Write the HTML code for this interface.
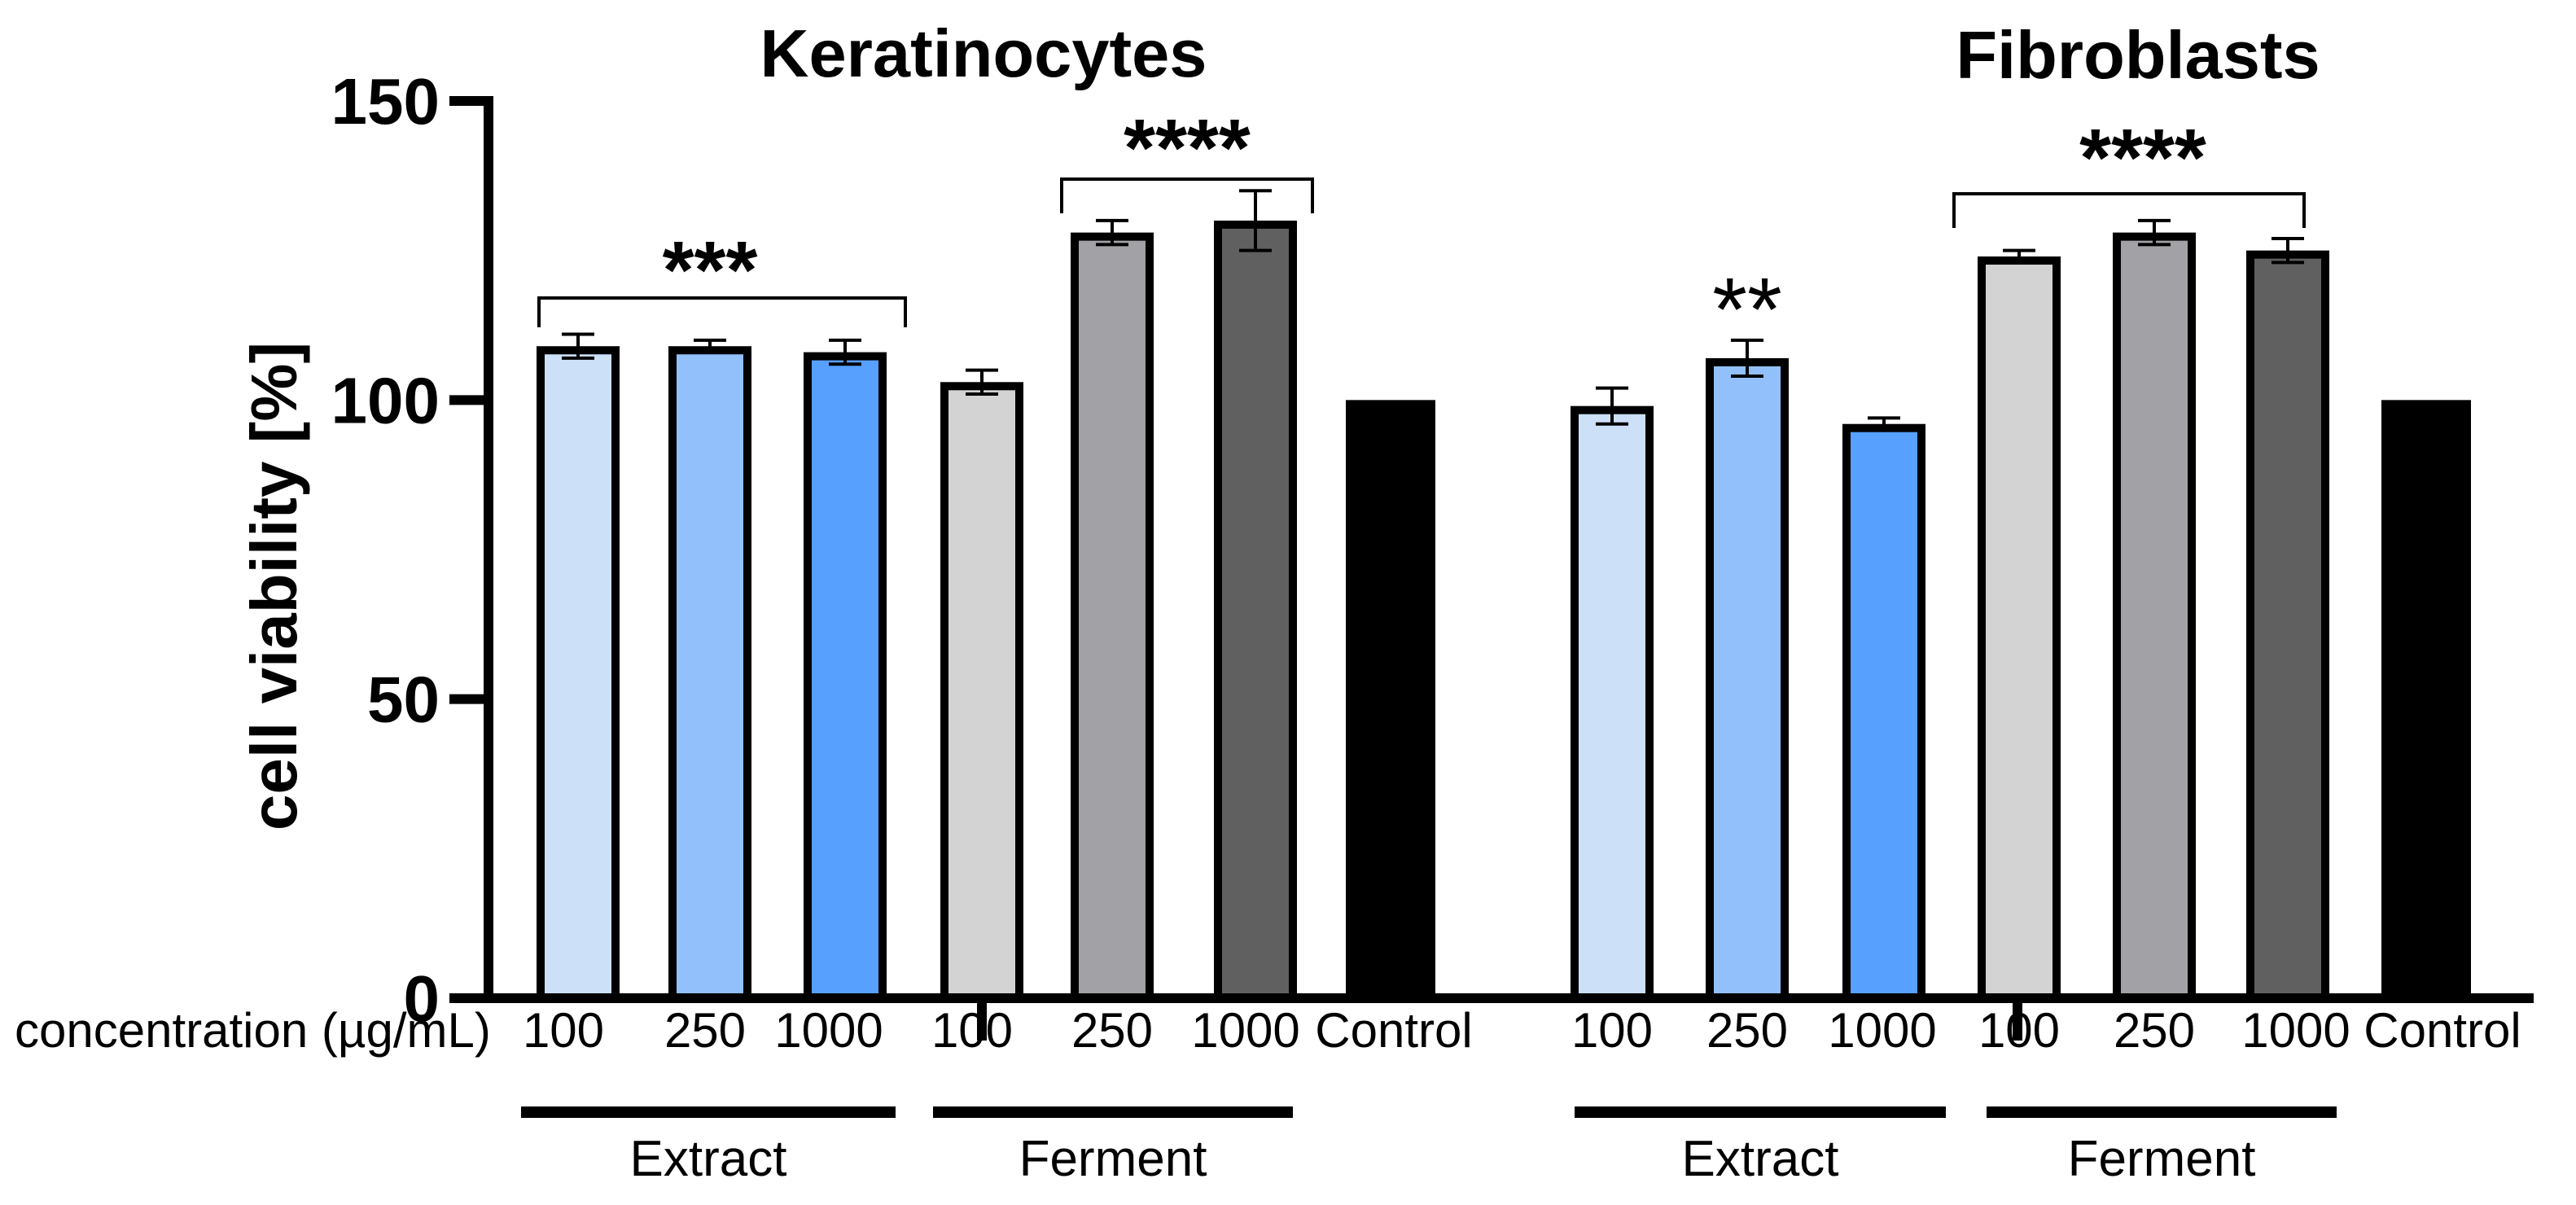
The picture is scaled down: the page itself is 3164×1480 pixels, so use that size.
<!DOCTYPE html>
<html><head><meta charset="utf-8"><style>
html,body{margin:0;padding:0;background:#fff;}
svg{display:block;font-family:"Liberation Sans",Arial,sans-serif;}
</style></head><body>
<svg id="chart" width="3164" height="1480" viewBox="0 0 3164 1480" xmlns="http://www.w3.org/2000/svg"></svg>
<script>
const categories = ["100","250","1000","100","250","1000","Control","100","250","1000","100","250","1000","Control"];
const values = [109,109,108,103,128,130,100,99,107,96,124,128,125,100];
const errors = [2,1,2,2,2,5,0,3,3,1,1,2,2,0];
const barCenters = [710,872,1038,1206,1366,1542,1708,1980,2146,2314,2480,2646,2810,2980];
const fills = ["#cce0f8","#92c0fa","#57a0fd","#d3d3d3","#a2a2a6","#606060","#000","#cce0f8","#92c0fa","#57a0fd","#d3d3d3","#a2a2a6","#606060","#000"];
const yTicks = [0,50,100,150];

const NS="http://www.w3.org/2000/svg";
const svg=document.getElementById('chart');
const y0=1226, yTop=124, vmax=150;
function yS(v){return y0-(v/vmax)*(y0-yTop);}
function el(tag,attrs,parent){const e=document.createElementNS(NS,tag);for(const k in attrs)e.setAttribute(k,attrs[k]);(parent||svg).appendChild(e);return e;}
function txt(s,attrs){const t=el('text',attrs);t.textContent=s;return t;}

categories.forEach((c,i)=>{
  const v=values[i], cx=barCenters[i];
  if(fills[i]==="#000"){
    const r=el('rect',{x:cx-55,y:yS(v),width:110,height:y0-yS(v),fill:'#000'});
    
    
  } else {
    const r=el('rect',{x:cx-46,y:yS(v)+5,width:92,height:y0-yS(v)-5,fill:fills[i],stroke:'#000','stroke-width':10});
    
    
    const e=errors[i];
    const g=el('g',{stroke:'#000','stroke-width':4});
    
    
    el('line',{x1:cx,x2:cx,y1:yS(v+e),y2:yS(v-e)},g);
    el('line',{x1:cx-20,x2:cx+20,y1:yS(v+e),y2:yS(v+e)},g);
    el('line',{x1:cx-20,x2:cx+20,y1:yS(v-e),y2:yS(v-e)},g);
  }
});

const ya=el('line',{x1:600,x2:600,y1:118,y2:1232,stroke:'#000','stroke-width':12});

const xa=el('line',{x1:594,x2:3112,y1:y0,y2:y0,stroke:'#000','stroke-width':12});

yTicks.forEach(t=>{
  const l=el('line',{x1:552,x2:600,y1:yS(t),y2:yS(t),stroke:'#000','stroke-width':12});
  
  const tt=txt(String(t),{x:540,y:yS(t)+28,'text-anchor':'end','font-size':80,'font-weight':'bold'});
  
});
[1206,2478].forEach(x=>{const l=el('line',{x1:x,x2:x,y1:y0,y2:1278,stroke:'#000','stroke-width':12});
});

const yt=txt('cell viability [%]',{x:0,y:0,transform:'translate(364,720) rotate(-90)','text-anchor':'middle','font-size':80,'font-weight':'bold'});


const t1=txt('Keratinocytes',{x:1208,y:94,'text-anchor':'middle','font-size':83,'font-weight':'bold'});

const t2=txt('Fibroblasts',{x:2626,y:96,'text-anchor':'middle','font-size':83,'font-weight':'bold'});


const cl=txt('concentration (µg/mL)',{x:18,y:1286,'font-size':60});

const labelX=[692,866,1018,1194,1366,1530,1712,1980,2146,2312,2480,2646,2820,3000];
categories.forEach((c,i)=>{
  const t=txt(c,{x:labelX[i],y:1286,'text-anchor':'middle','font-size':60});
  
});
const groups=[[640,1100,'Extract'],[1146,1588,'Ferment'],[1934,2390,'Extract'],[2440,2870,'Ferment']];
groups.forEach(g=>{
  const l=el('line',{x1:g[0],x2:g[1],y1:1366,y2:1366,stroke:'#000','stroke-width':14});
  
  const t=txt(g[2],{x:(g[0]+g[1])/2,y:1444,'text-anchor':'middle','font-size':62});
  
});

function bracket(x1,x2,yt,yb,stars,sy,sx,name){
  const p=el('path',{d:`M${x1} ${yb} V${yt} H${x2} V${yb}`,fill:'none',stroke:'#000','stroke-width':4});
  
  const t=txt(stars,{x:sx,y:sy,'text-anchor':'middle','font-size':100,'font-weight':'bold'});
  
}
bracket(662,1112,366,402,'***',366,872,'keratinocytes-extract');
bracket(1304,1612,220,262,'****',216,1458,'keratinocytes-ferment');
bracket(2400,2830,238,280,'****',228,2632,'fibroblasts-ferment');
const s2=txt('**',{x:2146,y:418,'text-anchor':'middle','font-size':110});

</script>
</body></html>
